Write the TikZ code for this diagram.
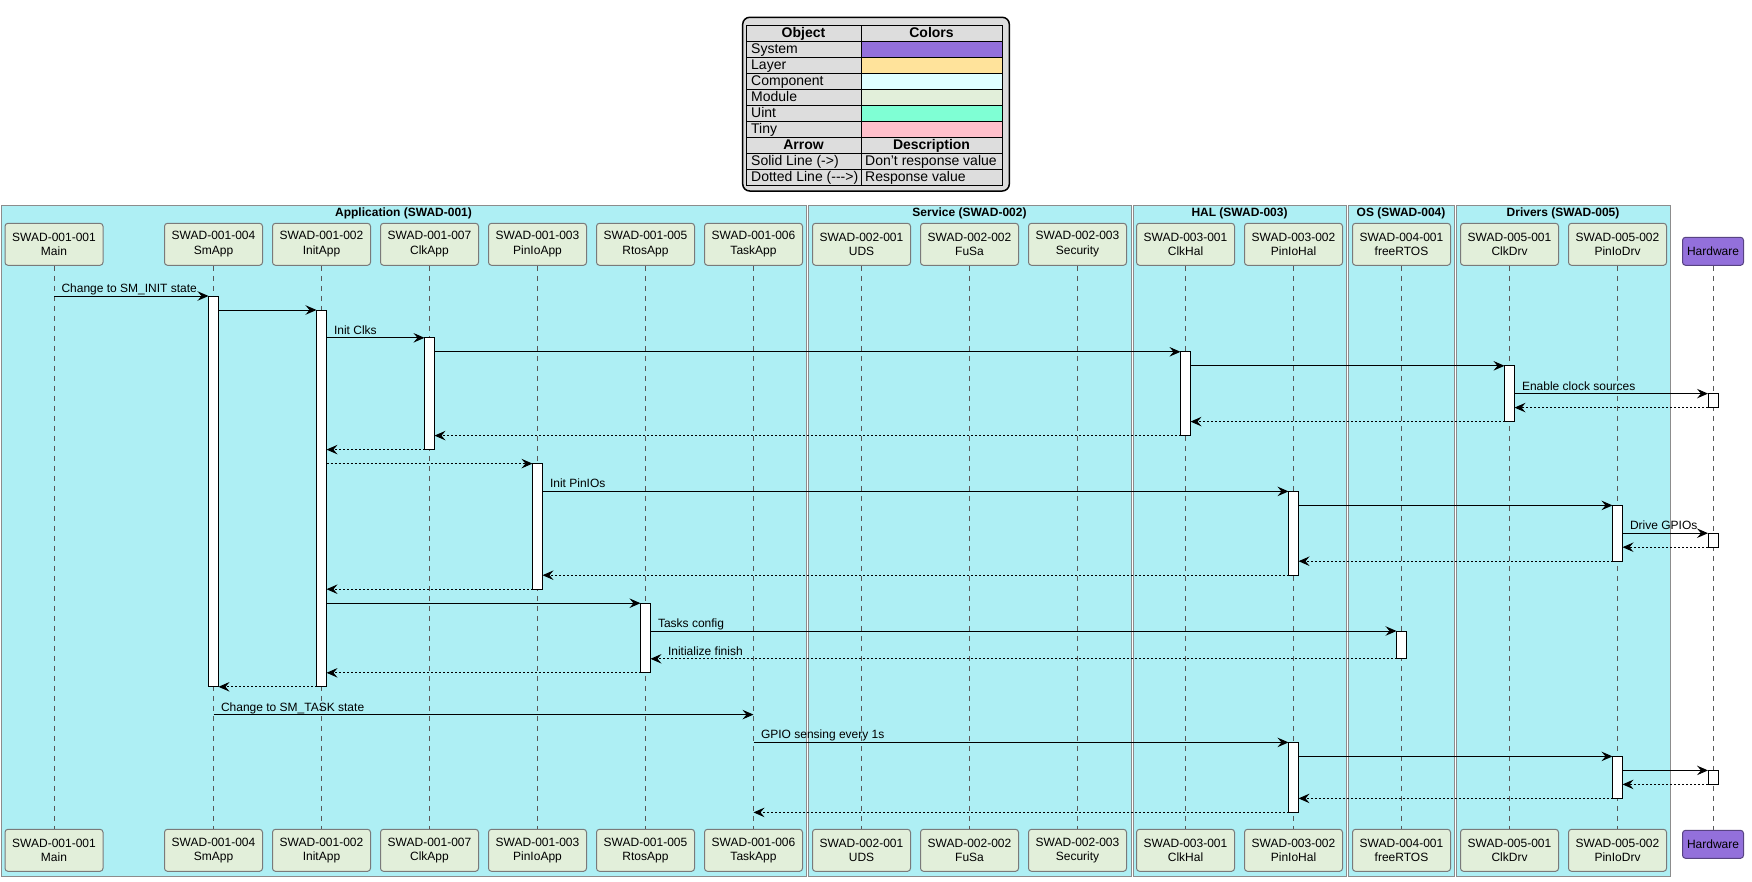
\documentclass[tikz,border=0pt]{standalone}
\usepackage{fontspec}
\setmainfont{Liberation Sans}
\usetikzlibrary{arrows.meta}

\definecolor{groupbg}{HTML}{AEEFF4}
\definecolor{groupline}{HTML}{8C8C8C}
\definecolor{module}{HTML}{E2EFDA}
\definecolor{partline}{HTML}{7A7A7A}
\definecolor{system}{HTML}{9370DB}
\definecolor{layer}{HTML}{FFE39B}
\definecolor{component}{HTML}{E0FFFF}
\definecolor{uint}{HTML}{7FFFD4}
\definecolor{tiny}{HTML}{FFC0CB}
\definecolor{legendbg}{HTML}{DDDDDD}

\tikzset{
  part/.style={draw=partline, fill=module, rounded corners=3pt, line width=1pt,
    minimum width=98pt, minimum height=42pt, inner sep=0pt, align=center,
    font=\fontsize{12}{14.5}\selectfont},
  hwpart/.style={part, fill=system, draw=system!60!black, minimum width=61pt, minimum height=28pt},
  act/.style={draw, fill=white, line width=1pt, minimum width=10pt, inner sep=0pt, outer sep=0pt, anchor=north},
  lifeline/.style={draw=black!65, line width=0.8pt, dash pattern=on 5pt off 5pt},
  msg/.style={line width=1pt, -{Stealth[length=11pt,width=9.5pt,inset=4pt]}},
  ret/.style={msg, dash pattern=on 2pt off 2pt},
  lbl/.style={font=\fontsize{12}{14}\selectfont, inner sep=0pt, anchor=base west, pos=0, xshift=7pt, yshift=3.5pt},
  lblr/.style={font=\fontsize{12}{14}\selectfont, inner sep=0pt, anchor=base west, pos=1, xshift=17pt, yshift=3.5pt},
  grp/.style={draw=groupline, fill=groupbg, line width=1pt},
  grptitle/.style={font=\fontsize{12}{14}\selectfont\bfseries, inner sep=0pt},
  cell/.style={font=\fontsize{14}{16}\selectfont, inner sep=0pt, anchor=base west},
  head/.style={font=\fontsize{14}{16}\selectfont\bfseries, inner sep=0pt, anchor=base}
}

\begin{document}
\begin{tikzpicture}[x=1pt,y=-1pt]
  \useasboundingbox (0,0) rectangle (1752,881);

  \draw[fill=legendbg, line width=1.5pt, rounded corners=7pt] (742.7,17.3) rectangle (1009.3,191);
  \fill[system] (861,41) rectangle (1002,57);
  \fill[layer] (861,57) rectangle (1002,73);
  \fill[component] (861,73) rectangle (1002,89);
  \fill[module] (861,89) rectangle (1002,105);
  \fill[uint] (861,105) rectangle (1002,121);
  \fill[tiny] (861,121) rectangle (1002,137);
  \draw[line width=1pt] (746,25) rectangle (1002,185);
  \draw[line width=1pt] (746,41) -- (1002,41) (746,57) -- (1002,57) (746,73) -- (1002,73)
    (746,89) -- (1002,89) (746,105) -- (1002,105) (746,121) -- (1002,121)
    (746,137) -- (1002,137) (746,153) -- (1002,153) (746,169) -- (1002,169)
    (861,25) -- (861,185);
  \node[head] (lobject) at (803.5,37) {Object};
  \node[head] (lcolors) at (931.5,37) {Colors};
  \node[cell] (lsystem) at (751,53) {System};
  \node[cell] (llayer) at (751,69) {Layer};
  \node[cell] (lcomp) at (751,85) {Component};
  \node[cell] (lmodule) at (751,101) {Module};
  \node[cell] (luint) at (751,117) {Uint};
  \node[cell] (ltiny) at (751,133) {Tiny};
  \node[head] (larrow) at (803.5,149) {Arrow};
  \node[head] (ldesc) at (931.5,149) {Description};
  \node[cell] (lsolid) at (751,165) {Solid Line (->)};
  \node[cell] (lsoliddesc) at (865,165) {Don't response value};
  \node[cell] (ldotted) at (751,181) {Dotted Line (-{}-{}->)};
  \node[cell] (ldotteddesc) at (865,181) {Response value};

  \draw[grp] (1,205) rectangle (806,876);
  \draw[grp] (808,205) rectangle (1131,876);
  \draw[grp] (1133,205) rectangle (1346,876);
  \draw[grp] (1348,205) rectangle (1454,876);
  \draw[grp] (1456,205) rectangle (1670,876);
  \node[grptitle] (gapp) at (403.5,213.5) {Application (SWAD-001)};
  \node[grptitle] (gsrv) at (969.5,213.5) {Service (SWAD-002)};
  \node[grptitle] (ghal) at (1239.5,213.5) {HAL (SWAD-003)};
  \node[grptitle] (gos) at (1401,213.5) {OS (SWAD-004)};
  \node[grptitle] (gdrv) at (1563,213.5) {Drivers (SWAD-005)};

  \node[part] (main) at (54,244.3) {SWAD-001-001\\Main};
  \node[part] (smapp) at (213.5,244.3) {SWAD-001-004\\SmApp};
  \node[part] (initapp) at (321.5,244.3) {SWAD-001-002\\InitApp};
  \node[part] (clkapp) at (429.5,244.3) {SWAD-001-007\\ClkApp};
  \node[part] (pinioapp) at (537.5,244.3) {SWAD-001-003\\PinIoApp};
  \node[part] (rtosapp) at (645.5,244.3) {SWAD-001-005\\RtosApp};
  \node[part] (taskapp) at (753.5,244.3) {SWAD-001-006\\TaskApp};
  \node[part] (uds) at (861.5,244.3) {SWAD-002-001\\UDS};
  \node[part] (fusa) at (969.5,244.3) {SWAD-002-002\\FuSa};
  \node[part] (security) at (1077.5,244.3) {SWAD-002-003\\Security};
  \node[part] (clkhal) at (1185.5,244.3) {SWAD-003-001\\ClkHal};
  \node[part] (piniohal) at (1293.5,244.3) {SWAD-003-002\\PinIoHal};
  \node[part] (freertos) at (1401.5,244.3) {SWAD-004-001\\freeRTOS};
  \node[part] (clkdrv) at (1509.5,244.3) {SWAD-005-001\\ClkDrv};
  \node[part] (piniodrv) at (1617.5,244.3) {SWAD-005-002\\PinIoDrv};
  \node[hwpart] (hw) at (1713,251.3) {Hardware};

  \node[part] (mainB) at (54,850.3) {SWAD-001-001\\Main};
  \node[part] (smappB) at (213.5,850.3) {SWAD-001-004\\SmApp};
  \node[part] (initappB) at (321.5,850.3) {SWAD-001-002\\InitApp};
  \node[part] (clkappB) at (429.5,850.3) {SWAD-001-007\\ClkApp};
  \node[part] (pinioappB) at (537.5,850.3) {SWAD-001-003\\PinIoApp};
  \node[part] (rtosappB) at (645.5,850.3) {SWAD-001-005\\RtosApp};
  \node[part] (taskappB) at (753.5,850.3) {SWAD-001-006\\TaskApp};
  \node[part] (udsB) at (861.5,850.3) {SWAD-002-001\\UDS};
  \node[part] (fusaB) at (969.5,850.3) {SWAD-002-002\\FuSa};
  \node[part] (securityB) at (1077.5,850.3) {SWAD-002-003\\Security};
  \node[part] (clkhalB) at (1185.5,850.3) {SWAD-003-001\\ClkHal};
  \node[part] (piniohalB) at (1293.5,850.3) {SWAD-003-002\\PinIoHal};
  \node[part] (freertosB) at (1401.5,850.3) {SWAD-004-001\\freeRTOS};
  \node[part] (clkdrvB) at (1509.5,850.3) {SWAD-005-001\\ClkDrv};
  \node[part] (piniodrvB) at (1617.5,850.3) {SWAD-005-002\\PinIoDrv};
  \node[hwpart] (hwB) at (1713,844.3) {Hardware};

  \draw[lifeline] (main) -- (mainB);
  \draw[lifeline] (smapp) -- (smappB);
  \draw[lifeline] (initapp) -- (initappB);
  \draw[lifeline] (clkapp) -- (clkappB);
  \draw[lifeline] (pinioapp) -- (pinioappB);
  \draw[lifeline] (rtosapp) -- (rtosappB);
  \draw[lifeline] (taskapp) -- (taskappB);
  \draw[lifeline] (uds) -- (udsB);
  \draw[lifeline] (fusa) -- (fusaB);
  \draw[lifeline] (security) -- (securityB);
  \draw[lifeline] (clkhal) -- (clkhalB);
  \draw[lifeline] (piniohal) -- (piniohalB);
  \draw[lifeline] (freertos) -- (freertosB);
  \draw[lifeline] (clkdrv) -- (clkdrvB);
  \draw[lifeline] (piniodrv) -- (piniodrvB);
  \draw[lifeline] (hw) -- (hwB);

  \node[act, minimum height=390.8pt] (aSm) at (213.5,296) {};
  \node[act, minimum height=376.8pt] (aInit) at (321.5,310) {};
  \node[act, minimum height=111.8pt] (aClkApp) at (429.5,337.8) {};
  \node[act, minimum height=83.8pt] (aClkHal) at (1185.5,351.8) {};
  \node[act, minimum height=55.8pt] (aClkDrv) at (1509.5,365.8) {};
  \node[act, minimum height=14pt] (aHw1) at (1713,393.6) {};
  \node[act, minimum height=125.6pt] (aPinApp) at (537.5,463.6) {};
  \node[act, minimum height=83.8pt] (aPinHal) at (1293.5,491.4) {};
  \node[act, minimum height=55.8pt] (aPinDrv) at (1617.5,505.4) {};
  \node[act, minimum height=14pt] (aHw2) at (1713,533.2) {};
  \node[act, minimum height=69.6pt] (aRtos) at (645.5,603.2) {};
  \node[act, minimum height=27.8pt] (aFree) at (1401.5,631) {};
  \node[act, minimum height=70pt] (aPinHal2) at (1293.5,742.4) {};
  \node[act, minimum height=42pt] (aPinDrv2) at (1617.5,756.4) {};
  \node[act, minimum height=14pt] (aHw3) at (1713,770.4) {};
  \coordinate (tsk) at (213.5,714.6);

  \draw[msg] (main |- aSm.north) -- node[lbl]{Change to SM\_INIT state} (aSm.north west);
  \draw[msg] (aSm.east |- aInit.north) -- (aInit.north west);
  \draw[msg] (aInit.east |- aClkApp.north) -- node[lbl]{Init Clks} (aClkApp.north west);
  \draw[msg] (aClkApp.east |- aClkHal.north) -- (aClkHal.north west);
  \draw[msg] (aClkHal.east |- aClkDrv.north) -- (aClkDrv.north west);
  \draw[msg] (aClkDrv.east |- aHw1.north) -- node[lbl]{Enable clock sources} (aHw1.north west);
  \draw[ret] (aHw1.south west) -- (aClkDrv.east |- aHw1.south);
  \draw[ret] (aClkDrv.south west) -- (aClkHal.east |- aClkDrv.south);
  \draw[ret] (aClkHal.south west) -- (aClkApp.east |- aClkHal.south);
  \draw[ret] (aClkApp.south west) -- (aInit.east |- aClkApp.south);
  \draw[ret] (aInit.east |- aPinApp.north) -- (aPinApp.north west);
  \draw[msg] (aPinApp.east |- aPinHal.north) -- node[lbl]{Init PinIOs} (aPinHal.north west);
  \draw[msg] (aPinHal.east |- aPinDrv.north) -- (aPinDrv.north west);
  \draw[msg] (aPinDrv.east |- aHw2.north) -- node[lbl]{Drive GPIOs} (aHw2.north west);
  \draw[ret] (aHw2.south west) -- (aPinDrv.east |- aHw2.south);
  \draw[ret] (aPinDrv.south west) -- (aPinHal.east |- aPinDrv.south);
  \draw[ret] (aPinHal.south west) -- (aPinApp.east |- aPinHal.south);
  \draw[ret] (aPinApp.south west) -- (aInit.east |- aPinApp.south);
  \draw[msg] (aInit.east |- aRtos.north) -- (aRtos.north west);
  \draw[msg] (aRtos.east |- aFree.north) -- node[lbl]{Tasks config} (aFree.north west);
  \draw[ret] (aFree.south west) -- node[lblr]{Initialize finish} (aRtos.east |- aFree.south);
  \draw[ret] (aRtos.south west) -- (aInit.east |- aRtos.south);
  \draw[ret] (aInit.south west) -- (aSm.east |- aInit.south);
  \draw[msg] (tsk) -- node[lbl]{Change to SM\_TASK state} (taskapp |- tsk);
  \draw[msg] (taskapp |- aPinHal2.north) -- node[lbl]{GPIO sensing every 1s} (aPinHal2.north west);
  \draw[msg] (aPinHal2.east |- aPinDrv2.north) -- (aPinDrv2.north west);
  \draw[msg] (aPinDrv2.east |- aHw3.north) -- (aHw3.north west);
  \draw[ret] (aHw3.south west) -- (aPinDrv2.east |- aHw3.south);
  \draw[ret] (aPinDrv2.south west) -- (aPinHal2.east |- aPinDrv2.south);
  \draw[ret] (aPinHal2.south west) -- (taskapp |- aPinHal2.south);
\end{tikzpicture}
\end{document}
